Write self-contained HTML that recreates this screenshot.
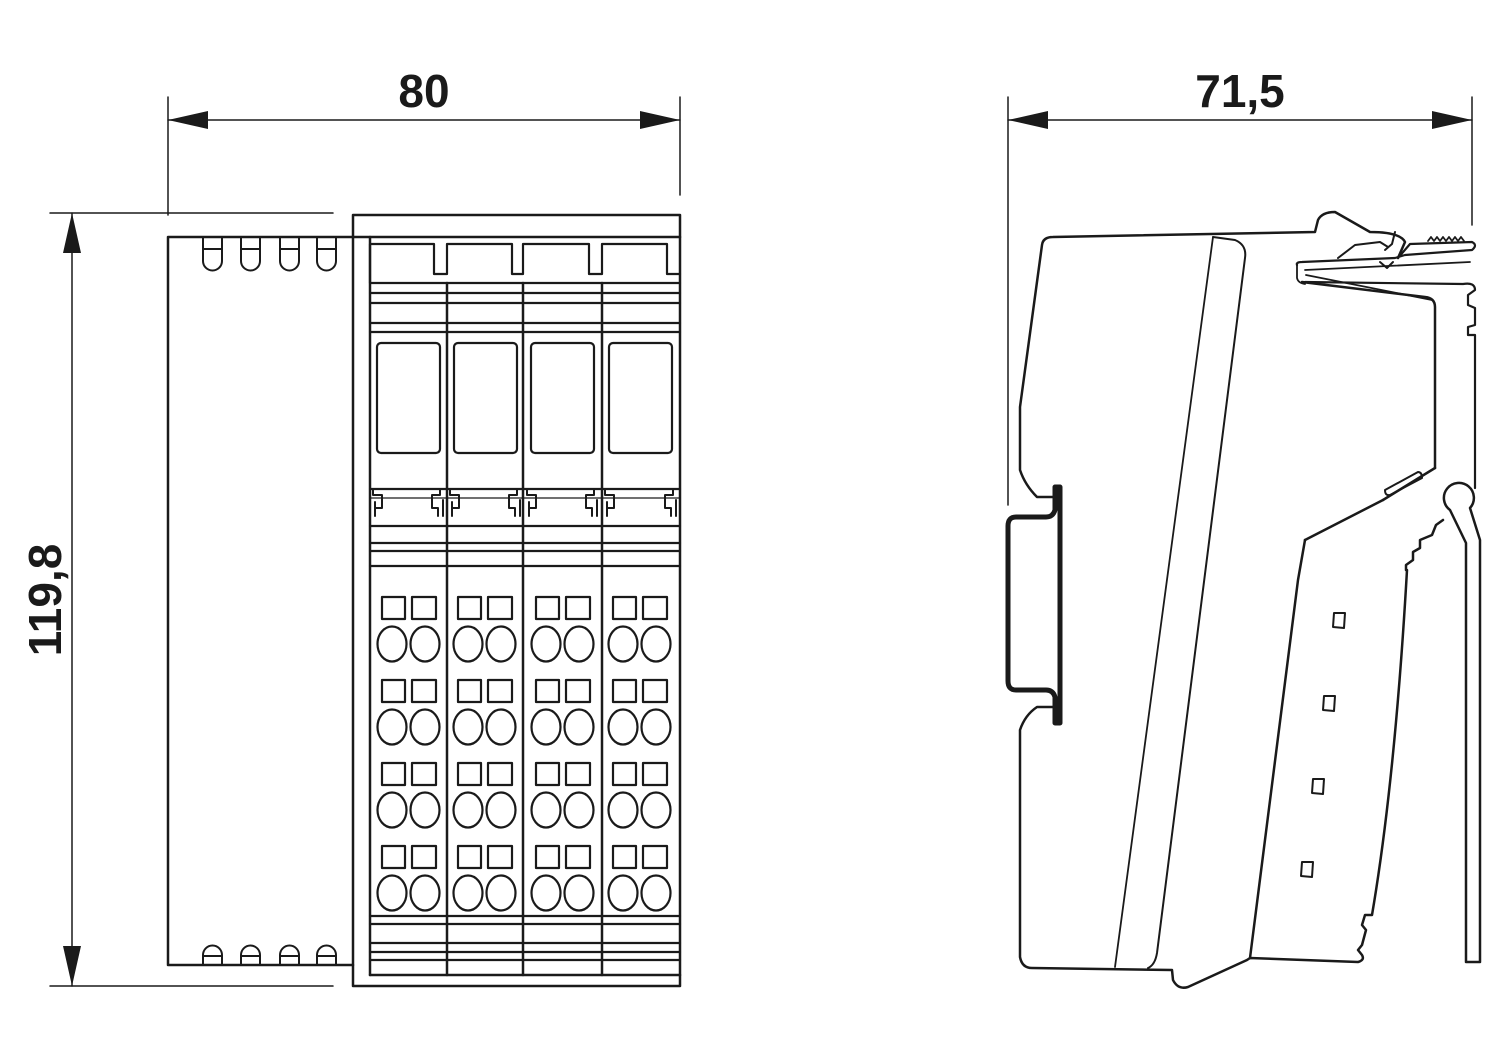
<!DOCTYPE html>
<html><head><meta charset="utf-8"><style>
html,body{margin:0;padding:0;background:#fff;}
svg{display:block;}
text{font-family:"Liberation Sans",sans-serif;font-weight:bold;font-size:46px;fill:#1a1a1a;}
</style></head><body>
<svg width="1500" height="1055" viewBox="0 0 1500 1055" xmlns="http://www.w3.org/2000/svg">
<g fill="none" stroke="#1a1a1a" stroke-linejoin="round" stroke-linecap="round">
<!-- dimension 80 -->
<g stroke-width="1.5">
<line x1="168" y1="97" x2="168" y2="215"/>
<line x1="680" y1="97" x2="680" y2="195"/>
<line x1="168" y1="120" x2="680" y2="120"/>
<line x1="50" y1="213" x2="333" y2="213"/>
<line x1="50" y1="986" x2="333" y2="986"/>
<line x1="72" y1="213" x2="72" y2="986"/>
<line x1="1008" y1="97" x2="1008" y2="505"/>
<line x1="1472" y1="97" x2="1472" y2="225"/>
<line x1="1008" y1="120" x2="1472" y2="120"/>
</g>
<g fill="#1a1a1a" stroke="none">
<polygon points="168,120 208,111 208,129"/>
<polygon points="680,120 640,111 640,129"/>
<polygon points="72,213 63,253 81,253"/>
<polygon points="72,986 63,946 81,946"/>
<polygon points="1008,120 1048,111 1048,129"/>
<polygon points="1472,120 1432,111 1432,129"/>
</g>

<!-- left module -->
<g stroke-width="2.5">
<polyline points="353,237 168,237 168,965 353,965"/>
<rect x="353" y="215" width="327" height="771"/>
<line x1="353" y1="237" x2="680" y2="237"/>
<line x1="370" y1="237" x2="370" y2="975"/>
<line x1="447" y1="283" x2="447" y2="975"/>
<line x1="523" y1="283" x2="523" y2="975"/>
<line x1="602" y1="283" x2="602" y2="975"/>
<line x1="370" y1="975" x2="680" y2="975"/>
</g>
<g stroke-width="2">
<!-- top bumps -->
<path d="M203,237 V261 A9.5,9.5 0 0 0 222,261 V237 M203,249 H222"/>
<path d="M241,237 V261 A9.5,9.5 0 0 0 260,261 V237 M241,249 H260"/>
<path d="M280,237 V261 A9.5,9.5 0 0 0 299,261 V237 M280,249 H299"/>
<path d="M317,237 V261 A9.5,9.5 0 0 0 336,261 V237 M317,249 H336"/>
<!-- bottom bumps -->
<path d="M203,965 V955 A9.5,9.5 0 0 1 222,955 V965 M203,956 H222"/>
<path d="M241,965 V955 A9.5,9.5 0 0 1 260,955 V965 M241,956 H260"/>
<path d="M280,965 V955 A9.5,9.5 0 0 1 299,955 V965 M280,956 H299"/>
<path d="M317,965 V955 A9.5,9.5 0 0 1 336,955 V965 M317,956 H336"/>
</g>
<g stroke-width="2.2">
<!-- top blocks -->
<path d="M370,283 V244 H434 V274 H447 V244 H512 V274 H523 V244 H589 V274 H602 V244 H667 V274 H680"/>
<line x1="370" y1="283" x2="680" y2="283"/>
<line x1="370" y1="293" x2="680" y2="293"/>
<line x1="370" y1="303" x2="680" y2="303"/>
<line x1="370" y1="323" x2="680" y2="323"/>
<line x1="370" y1="332" x2="680" y2="332"/>
<rect x="377" y="343" width="63" height="110" rx="4"/>
<rect x="454" y="343" width="63" height="110" rx="4"/>
<rect x="531" y="343" width="63" height="110" rx="4"/>
<rect x="609" y="343" width="63" height="110" rx="4"/>
<line x1="370" y1="489" x2="680" y2="489"/>
<line x1="370" y1="498" x2="680" y2="498" stroke-width="1.2"/>
<line x1="370" y1="526" x2="680" y2="526"/>
<line x1="370" y1="543" x2="680" y2="543"/>
<line x1="370" y1="551" x2="680" y2="551"/>
<line x1="370" y1="566" x2="680" y2="566"/>
<line x1="370" y1="916" x2="680" y2="916"/>
<line x1="370" y1="924" x2="680" y2="924"/>
<line x1="370" y1="943" x2="680" y2="943"/>
<line x1="370" y1="952" x2="680" y2="952"/>
<line x1="370" y1="960" x2="680" y2="960"/>
</g>
<!-- clip hooks -->
<g stroke-width="2">
<path id="hk" d="M373,489 V495 H382 V508 H375 V516 M375,502 V516"/>
<path d="M440,489 V495 H432 V508 H438 V516 M443,500 V516"/>
<path d="M450,489 V495 H459 V508 H452 V516 M452,502 V516"/>
<path d="M517,489 V495 H509 V508 H515 V516 M520,500 V516"/>
<path d="M527,489 V495 H536 V508 H529 V516 M529,502 V516"/>
<path d="M594,489 V495 H586 V508 H592 V516 M597,500 V516"/>
<path d="M605,489 V495 H614 V508 H607 V516 M607,502 V516"/>
<path d="M673,489 V495 H665 V508 H671 V516 M676,500 V516"/>
</g>
<!-- terminals -->
<g stroke-width="2.2">
<g id="col">
<rect x="382" y="597" width="23" height="22"/><rect x="412" y="597" width="24" height="22"/>
<ellipse cx="392" cy="644" rx="14.5" ry="17.5"/><ellipse cx="425" cy="644" rx="14.5" ry="17.5"/>
<rect x="382" y="680" width="23" height="22"/><rect x="412" y="680" width="24" height="22"/>
<ellipse cx="392" cy="727" rx="14.5" ry="17.5"/><ellipse cx="425" cy="727" rx="14.5" ry="17.5"/>
<rect x="382" y="763" width="23" height="22"/><rect x="412" y="763" width="24" height="22"/>
<ellipse cx="392" cy="810" rx="14.5" ry="17.5"/><ellipse cx="425" cy="810" rx="14.5" ry="17.5"/>
<rect x="382" y="846" width="23" height="22"/><rect x="412" y="846" width="24" height="22"/>
<ellipse cx="392" cy="893" rx="14.5" ry="17.5"/><ellipse cx="425" cy="893" rx="14.5" ry="17.5"/>
</g>
<use href="#col" x="76"/>
<use href="#col" x="154"/>
<use href="#col" x="231"/>
</g>

<!-- right side view -->
<g stroke-width="2.5">
<!-- main body outline -->
<path d="M1053,237 L1315,232 L1318,220 Q1322,212 1335,212 L1370,232 Q1400,232 1405,242 L1398,258
 M1042,245 Q1043,237 1053,237 M1042,245 L1020,407 L1020,470 Q1025,485 1037,497 L1055,497
 M1020,730 Q1025,715 1037,707 L1055,707
 M1020,730 L1020,957 Q1022,968 1032,968 L1172,970 L1173,980 Q1178,990 1188,987 L1247,960 L1250,958 L1358,962 Q1365,960 1362,955 L1358,950 L1362,945 L1366,930 L1362,925 L1365,915 L1372,915 Q1395,780 1407,570"/>
<!-- front panel slanted lines -->
<path d="M1213,237 L1115,967" stroke-width="1.8"/>
<path d="M1213,237 L1235,240 Q1247,245 1245,258 L1157,953 Q1155,965 1148,968" stroke-width="2"/>
<!-- right panel -->
<path d="M1305,540 L1298,580 L1250,958"/>
<path d="M1305,540 L1383,500 M1435,468 L1435,307 Q1435,298 1425,297 L1302,282"/>
<path d="M1383,500 L1435,468"/>
<path d="M1406,570 V565 L1413,560 L1413,552 L1420,548 L1420,540 L1432,535 L1436,525 L1443,520"/>
<!-- pad -->
<path d="M1385,490 L1418,472 Q1422,472 1422,478 L1390,495 Q1385,496 1385,490 Z" stroke-width="2"/>
<!-- latch -->
<path d="M1297,265 Q1296,262 1302,262 L1395,258 L1405,255 L1472,250 Q1478,245 1472,242 L1410,244 L1398,258" stroke-width="2.2"/>
<path d="M1297,265 L1297,278 Q1298,283 1305,284 M1305,270 L1470,262 M1306,275 L1432,300" stroke-width="1.8"/>
<path d="M1385,250 L1392,244 L1395,232" stroke-width="2"/>
<path d="M1380,262 L1387,268 L1393,262" stroke-width="2"/>
<path d="M1338,258 L1355,245 L1380,242 L1388,247" stroke-width="2"/>
<path d="M1428,241 l3,-4 l3,4 l3,-4 l3,4 l3,-4 l3,4 l3,-4 l3,4 l3,-4 l3,4 l3,-4 l3,4" stroke-width="1.8"/>
<path d="M1305,282 L1463,284 Q1475,282 1475,290 L1468,295 L1468,305 L1475,308 L1475,325 L1468,327 L1468,335 L1475,335 L1475,488" stroke-width="2.2"/>
<!-- lever -->
<path d="M1450,510 A15,15 0 1 1 1470,508 L1480,540 V962 H1466 V543 L1450,510" stroke-width="2.5"/>
<!-- squares -->
<g stroke-width="2">
<path d="M1334,613 L1345,613 L1344,628 L1333,627 Z"/>
<path d="M1324,696 L1335,696 L1334,711 L1323,710 Z"/>
<path d="M1313,779 L1324,779 L1323,794 L1312,793 Z"/>
<path d="M1302,862 L1313,862 L1312,877 L1301,876 Z"/>
</g>
</g>
<!-- DIN rail -->
<path d="M1055,487 L1060,487 L1060,723 L1055,723 L1055,697 Q1053,690 1046,690 L1016,690 Q1008,690 1008,681 L1008,526 Q1008,517 1016,517 L1046,517 Q1053,517 1055,510 Z" stroke-width="5"/>
<line x1="1060" y1="497" x2="1060" y2="715" stroke-width="2"/>
</g>
<text x="424" y="107" text-anchor="middle">80</text>
<text x="1240" y="107" text-anchor="middle">71,5</text>
<text x="0" y="0" text-anchor="middle" transform="translate(61,600) rotate(-90)">119,8</text>
</svg>
</body></html>
